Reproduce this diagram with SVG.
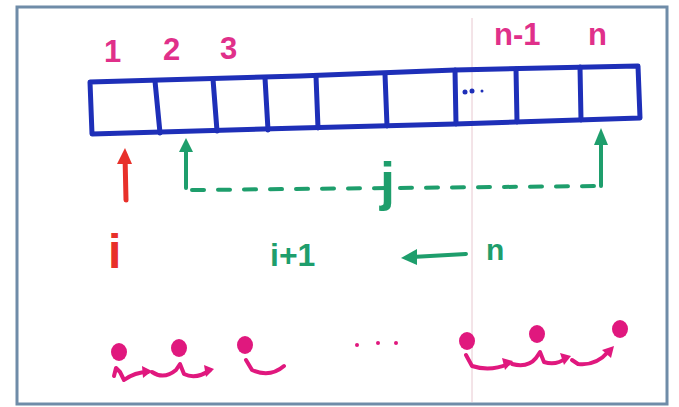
<svg xmlns="http://www.w3.org/2000/svg" width="679" height="407" viewBox="0 0 679 407">
<style>
.blue{fill:none;stroke:#1e2fb8;stroke-width:5;stroke-linejoin:round;stroke-linecap:round}
.grn{fill:none;stroke:#1e9e6c;stroke-width:4;stroke-linecap:round;stroke-linejoin:round}
.red{fill:none;stroke:#e8302a;stroke-width:5;stroke-linecap:round}
.pk{fill:none;stroke:#e0187e;stroke-width:4;stroke-linecap:round;stroke-linejoin:round}
.lbl{font-family:"Liberation Sans",Arial,sans-serif;font-weight:bold}
</style>
<rect x="0" y="0" width="679" height="407" fill="#ffffff"/>
<rect x="17" y="7" width="650" height="397" fill="#ffffff" stroke="#6f8ca8" stroke-width="3"/>
<line x1="472" y1="18" x2="472" y2="402" stroke="#e8c8d0" stroke-width="1"/>
<g id="index-labels" class="lbl" fill="#e0308a" font-size="31">
<text x="104" y="62">1</text>
<text x="163" y="60">2</text>
<text x="220" y="59">3</text>
<text x="494" y="45">n-1</text>
<text x="588" y="45">n</text>
</g>
<g id="array">
<path class="blue" d="M90 82 L300 76 L455 70 L638 66 L640 118 L455 124 L300 128 L92 134 Z"/>
<path class="blue" d="M155 81 L160 133 M213 79 L217 131 M265 78 L268 130 M316 76 L318 128 M385 74 L387 126 M455 70 L456 124 M516 69 L517 122 M580 67 L581 120"/>
<circle cx="465" cy="92" r="2.5" fill="#1e2fb8"/>
<circle cx="472" cy="91" r="2.5" fill="#1e2fb8"/>
<circle cx="482" cy="91" r="1.5" fill="#1e2fb8"/>
</g>
<g id="connectors">
<path class="red" d="M126 200 L125 155"/>
<path d="M117 164 L125 148 L132 164 Z" fill="#e8302a"/>
<path class="grn" d="M186 188 L186 145"/>
<path d="M179 152 L186 138 L193 152 Z" fill="#1e9e6c"/>
<path class="grn" d="M192 190 L598 186" stroke-dasharray="12 14"/>
<path class="grn" d="M601 186 L601 138"/>
<path d="M594 145 L601 128 L608 145 Z" fill="#1e9e6c"/>
<path class="grn" d="M466 254 L412 257"/>
<path d="M417 249 L401 258 L417 265 Z" fill="#1e9e6c"/>
</g>
<g id="var-i"><text x="108" y="268" class="lbl" fill="#e8302a" font-size="48">i</text></g>
<g id="var-j"><text x="380" y="200" class="lbl" fill="#1e9e6c" font-size="54">j</text></g>
<g id="range-i1"><text x="270" y="266" class="lbl" fill="#1e9e6c" font-size="32">i+1</text></g>
<g id="range-n"><text x="486" y="260" class="lbl" fill="#1e9e6c" font-size="30">n</text></g>
<g id="chain" fill="#e0187e">
<ellipse cx="119" cy="352" rx="8" ry="9"/>
<ellipse cx="179" cy="348" rx="8" ry="9"/>
<ellipse cx="245" cy="345" rx="8" ry="9"/>
<ellipse cx="467" cy="341" rx="8" ry="9"/>
<ellipse cx="537" cy="334" rx="8" ry="9"/>
<ellipse cx="620" cy="329" rx="8" ry="9"/>
<path class="pk" d="M114 376 L116 368 L120 372 L124 380 Q135 372 148 372"/>
<path d="M142 366 L152 371 L143 378 Z"/>
<path class="pk" d="M152 372 Q164 380 176 370 L180 364 L184 374 Q196 380 210 370"/>
<path d="M204 365 L214 369 L206 377 Z"/>
<path class="pk" d="M246 360 L252 370 Q270 378 284 366"/>
<path class="pk" d="M466 355 L472 366 Q490 372 508 364"/>
<path d="M502 358 L513 361 L505 370 Z"/>
<path class="pk" d="M512 364 Q528 368 536 358 L540 352 L544 362 Q556 366 566 358"/>
<path d="M560 353 L571 356 L564 365 Z"/>
<path class="pk" d="M572 360 L578 364 Q596 366 608 352"/>
<path d="M602 350 L614 346 L611 358 Z"/>
<circle cx="357" cy="345" r="2"/>
<circle cx="378" cy="343" r="2"/>
<circle cx="396" cy="343" r="2"/>
</g>
</svg>
